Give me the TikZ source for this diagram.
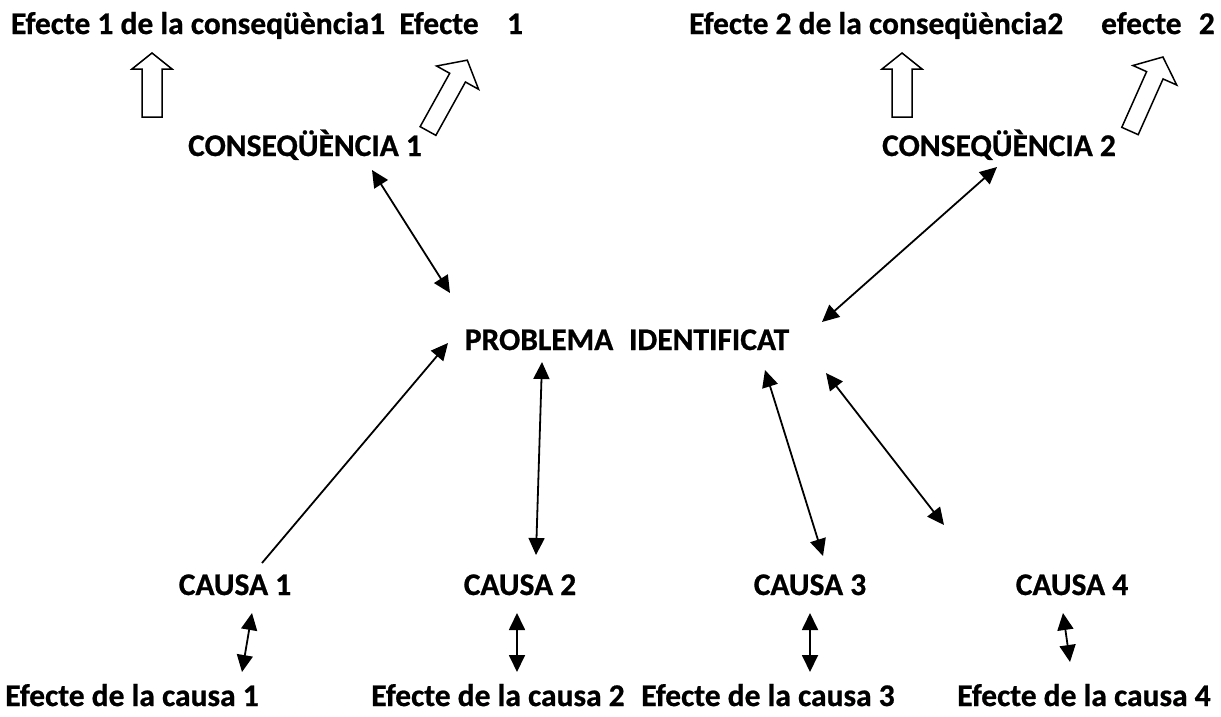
\documentclass[tikz,border=0pt]{standalone}
\usepackage{fontspec}
\setmainfont{Carlito}
\newfontfamily\heavyfont{Carlito Bold}[FakeBold=0.7]
\usetikzlibrary{arrows.meta}
\begin{document}
\begin{tikzpicture}[x=1pt,y=-1pt,
  lbl/.style={font=\heavyfont\fontsize{31.5}{36}\selectfont, inner sep=0pt, anchor=base},
  tipk/.tip={Triangle[length=17pt,width=16pt]},
  conn/.style={line width=1.8pt, tipk-tipk},
  conn1/.style={line width=1.8pt, -tipk},
  block/.style={line width=1.5pt, draw=black, fill=white},
  uparrow/.pic={\draw[block] (-10,0) -- (-10,-48) -- (-20,-48) -- (0,-64) -- (20,-48) -- (10,-48) -- (10,0) -- cycle;},
  tiltarrow/.pic={\draw[block] (-9,0) -- (-9,-61) -- (-24,-61) -- (0,-81) -- (24,-61) -- (9,-61) -- (9,0) -- cycle;}]
\useasboundingbox[fill=white] (0,0) rectangle (1221,716);

% texts
\node[lbl] (top1) at (267,34) {Efecte 1 de la conseqüència1\hspace{0.45em}Efecte\hspace{0.9em}1};
\node[lbl] (top2) at (952,34) {Efecte 2 de la conseqüència2\hspace{1.2em}efecte\hspace{0.55em}2};
\node[lbl] (cons1) at (305,156) {CONSEQÜÈNCIA 1};
\node[lbl] (cons2) at (999,156) {CONSEQÜÈNCIA 2};
\node[lbl] (prob) at (627,350) {PROBLEMA\hspace{0.5em}IDENTIFICAT};
\node[lbl] (ca1) at (235,595) {CAUSA 1};
\node[lbl] (ca2) at (520,595) {CAUSA 2};
\node[lbl] (ca3) at (810,595) {CAUSA 3};
\node[lbl] (ca4) at (1072,595) {CAUSA 4};
\node[lbl] (ef1) at (132,706) {Efecte de la causa 1};
\node[lbl] (ef2) at (498,706) {Efecte de la causa 2};
\node[lbl] (ef3) at (768,706) {Efecte de la causa 3};
\node[lbl] (ef4) at (1084,706) {Efecte de la causa 4};

% block arrows
\pic at (152,117) {uparrow};
\pic at (902,117) {uparrow};
\pic[rotate=-29] at (428,131) {tiltarrow};
\pic[rotate=-24] at (1130,131) {tiltarrow};

% connector end points
\coordinate (k1a) at (372,170); \coordinate (k1b) at (450,293);
\coordinate (k2a) at (997,167); \coordinate (k2b) at (822,322);
\coordinate (p1a) at (262,563); \coordinate (p1b) at (448,343);
\coordinate (p2a) at (536,555); \coordinate (p2b) at (542,362);
\coordinate (p3a) at (823,556); \coordinate (p3b) at (765,370);
\coordinate (p4a) at (944,525); \coordinate (p4b) at (826,373);
\coordinate (e1a) at (252,613); \coordinate (e1b) at (242,672);
\coordinate (e2a) at (517,613); \coordinate (e2b) at (517,672);
\coordinate (e3a) at (810,613); \coordinate (e3b) at (810,672);
\coordinate (e4a) at (1063,613); \coordinate (e4b) at (1070,662);

\draw[conn] (k1a) -- (k1b);
\draw[conn] (k2a) -- (k2b);
\draw[conn1] (p1a) -- (p1b);
\draw[conn] (p2a) -- (p2b);
\draw[conn] (p3a) -- (p3b);
\draw[conn] (p4a) -- (p4b);
\draw[conn] (e1a) -- (e1b);
\draw[conn] (e2a) -- (e2b);
\draw[conn] (e3a) -- (e3b);
\draw[conn] (e4a) -- (e4b);
\end{tikzpicture}
\end{document}
